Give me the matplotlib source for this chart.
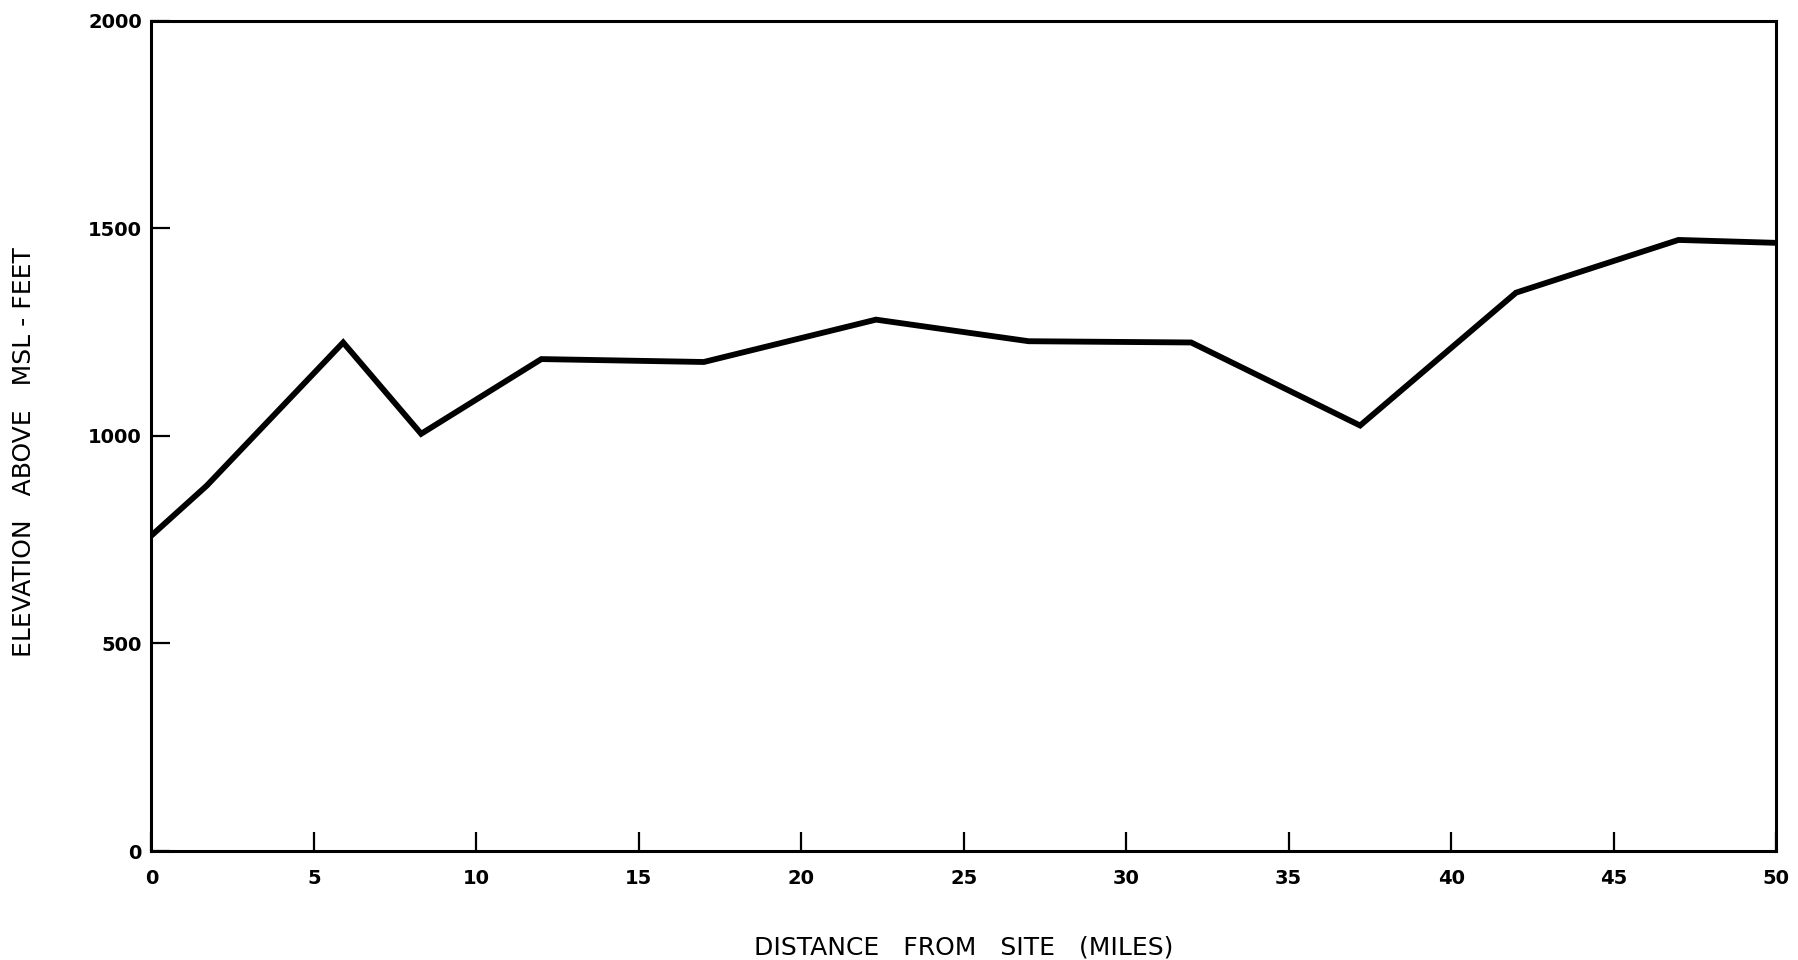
import matplotlib
matplotlib.use('Agg')
import matplotlib.pyplot as plt

# elevation profile
distance_mi = [0, 1.7, 5.9, 8.3, 12.0, 17.0, 22.3, 27.0, 32.0, 37.2, 42.0, 47.0, 50.0]
elevation_ft = [760, 880, 1225, 1005, 1185, 1178, 1280, 1228, 1225, 1025, 1345, 1472, 1465]

x_ticks = [0, 5, 10, 15, 20, 25, 30, 35, 40, 45, 50]
y_ticks = [0, 500, 1000, 1500, 2000]

fig = plt.figure(figsize=(17.99, 9.6), dpi=100)
ax = fig.add_axes([0.0842, 0.1135, 0.9030, 0.8649])

ax.plot(distance_mi, elevation_ft, color='black', lw=4.2, solid_joinstyle='miter')

ax.set_xlim(0, 50)
ax.set_ylim(0, 2000)
ax.set_xticks(x_ticks)
ax.set_yticks(y_ticks)

for side in ax.spines.values():
    side.set_linewidth(2.2)

ax.tick_params(axis='both', direction='in', length=13.5, width=1.6, labelsize=14)
ax.tick_params(axis='x', pad=13)
ax.tick_params(axis='y', pad=7)
for lab in ax.get_xticklabels() + ax.get_yticklabels():
    lab.set_fontweight('bold')

ax.set_xlabel('DISTANCE   FROM   SITE   (MILES)', fontsize=18, labelpad=34)
ax.set_ylabel('ELEVATION   ABOVE   MSL - FEET', fontsize=18, labelpad=34)
ax.yaxis.set_label_coords(-0.071, 0.48)

fig.savefig('out.png', dpi=100)
